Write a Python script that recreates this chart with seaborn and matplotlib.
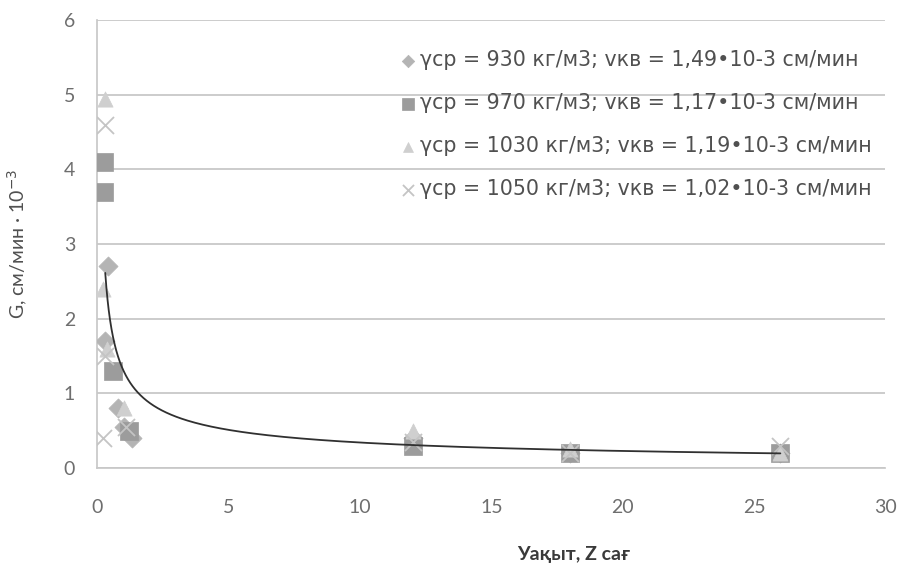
import numpy as np
import pandas as pd
import matplotlib
matplotlib.use("Agg")
import matplotlib.pyplot as plt
import seaborn as sns

# Series labels (average density and settling velocity)
labels = [
    "γср = 930 кг/м3; vкв = 1,49•10-3 см/мин",
    "γср = 970 кг/м3; vкв = 1,17•10-3 см/мин",
    "γср = 1030 кг/м3; vкв = 1,19•10-3 см/мин",
    "γср = 1050 кг/м3; vкв = 1,02•10-3 см/мин",
]

# Time, hours
t_930 = [0.4, 0.3, 0.8, 1.0, 1.3, 12, 18, 26]
t_970 = [0.25, 0.25, 0.6, 1.2, 12, 18, 26]
t_1030 = [0.3, 0.2, 0.35, 1.0, 12, 18, 26]
t_1050 = [0.3, 0.3, 0.2, 1.1, 12, 18, 26]

# G, cm/min · 10^-3
g_930 = [2.7, 1.7, 0.8, 0.55, 0.4, 0.4, 0.2, 0.2]
g_970 = [4.1, 3.7, 1.3, 0.5, 0.3, 0.2, 0.2]
g_1030 = [4.95, 2.4, 1.6, 0.8, 0.5, 0.25, 0.2]
g_1050 = [4.6, 1.5, 0.4, 0.55, 0.35, 0.2, 0.3]

# Power trendline G = a * t^b and the time span it covers
trend_coef = [1.3, -0.58]
trend_span = [0.3, 26]

x_ticks = [0, 5, 10, 15, 20, 25, 30]
y_ticks = [0, 1, 2, 3, 4, 5, 6]

frames = []
for lab, t, g in zip(labels, [t_930, t_970, t_1030, t_1050],
                     [g_930, g_970, g_1030, g_1050]):
    frames.append(pd.DataFrame({"t": t, "G": g, "series": lab}))
df = pd.concat(frames, ignore_index=True)

sns.set_theme(style="white")
plt.rcParams["font.family"] = ["Lato", "DejaVu Sans"]

fig = plt.figure(figsize=(9.10, 5.75), dpi=100)
ax = fig.add_axes([0.107, 0.186, 0.866, 0.779])

palette = dict(zip(labels, ["#b4b4b4", "#9c9c9c", "#cfcfcf", "#c4c4c4"]))
markers = dict(zip(labels, ["D", "s", "^", "x"]))
sizes = {"D": 95, "s": 150, "^": 120, "x": 150}

for lab in labels:
    sub = df[df["series"] == lab]
    m = markers[lab]
    kw = dict(linewidth=1.3) if m == "x" else dict(edgecolor=palette[lab], linewidth=0.5)
    sns.scatterplot(data=sub, x="t", y="G", marker=m, color=palette[lab],
                    s=sizes[m], ax=ax, label=lab, zorder=3, **kw)

trend = pd.DataFrame({"t": np.geomspace(trend_span[0], trend_span[1], 400)})
trend["G"] = trend_coef[0] * trend["t"] ** trend_coef[1]
sns.lineplot(data=trend, x="t", y="G", color="#303030", linewidth=1.3,
             ax=ax, zorder=4, legend=False)

ax.set_xlim(0, 30)
ax.set_ylim(0, 6)
ax.set_xticks(x_ticks)
ax.set_yticks(y_ticks)
ax.yaxis.grid(True, color="#c4c4c4", linewidth=1.2)
ax.xaxis.grid(False)
for side in ["top", "right"]:
    ax.spines[side].set_visible(False)
ax.spines["left"].set_color("#c8c8c8")
ax.spines["bottom"].set_color("#c8c8c8")
ax.tick_params(axis="both", labelsize=14, colors="#6e6e6e", length=0)
ax.tick_params(axis="x", pad=22)
ax.tick_params(axis="y", pad=16)

ax.set_xlabel("Уақыт, Z сағ", fontsize=14, color="#3a3a3a", fontweight="bold")
ax.xaxis.set_label_coords(0.605, -0.175)
ax.set_ylabel("G, см/мин · 10$^{-3}$", fontsize=14, color="#505050")
ax.yaxis.set_label_coords(-0.086, 0.5)

leg = ax.legend(loc="upper right", bbox_to_anchor=(0.998, 0.96), frameon=False,
                prop={"family": ["DejaVu Sans"], "size": 14.8},
                labelspacing=1.12, handletextpad=0.05,
                handlelength=1.0, markerscale=0.65, borderaxespad=0.2)
for txt in leg.get_texts():
    txt.set_color("#505050")

fig.savefig("out.png", dpi=100)
